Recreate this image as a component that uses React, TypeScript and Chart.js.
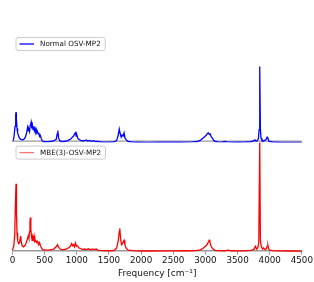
import React, { useEffect, useRef } from "react";
import { Chart, registerables } from "chart.js";

Chart.register(...registerables);

// Frequencies (cm^-1) and intensities for the two spectra
const blueFreq = [0, 20, 40, 50, 55, 60, 70, 80, 95, 110, 130, 150, 175, 200, 220, 235, 245, 255, 265, 275, 285, 290, 300, 310, 320, 330, 340, 350, 360, 370, 380, 390, 400, 410, 420, 430, 445, 460, 480, 520, 580, 640, 680, 695, 705, 715, 730, 760, 800, 850, 880, 910, 930, 950, 965, 980, 990, 1000, 1015, 1030, 1060, 1100, 1130, 1150, 1170, 1200, 1230, 1260, 1290, 1320, 1400, 1500, 1580, 1620, 1645, 1660, 1672, 1690, 1705, 1720, 1735, 1750, 1770, 1800, 1860, 1950, 2100, 2300, 2500, 2600, 2700, 2800, 2870, 2920, 2950, 2980, 3000, 3015, 3030, 3045, 3060, 3075, 3090, 3110, 3130, 3160, 3200, 3260, 3300, 3340, 3400, 3500, 3600, 3700, 3750, 3770, 3790, 3810, 3825, 3835, 3845, 3855, 3865, 3880, 3900, 3925, 3945, 3960, 3970, 3985, 4000, 4050, 4150, 4300, 4500];
const blueInt = [0.01, 0.04, 0.15, 0.26, 0.28, 0.22, 0.13, 0.09, 0.06, 0.04, 0.03, 0.025, 0.03, 0.05, 0.09, 0.14, 0.11, 0.12, 0.10, 0.16, 0.18, 0.19, 0.13, 0.16, 0.12, 0.15, 0.11, 0.13, 0.10, 0.12, 0.09, 0.10, 0.08, 0.09, 0.06, 0.07, 0.04, 0.02, 0.01, 0.008, 0.01, 0.015, 0.03, 0.08, 0.11, 0.05, 0.02, 0.01, 0.01, 0.015, 0.025, 0.035, 0.05, 0.06, 0.08, 0.09, 0.06, 0.07, 0.04, 0.03, 0.02, 0.015, 0.02, 0.025, 0.015, 0.02, 0.012, 0.018, 0.01, 0.012, 0.005, 0.004, 0.006, 0.02, 0.07, 0.125, 0.09, 0.05, 0.07, 0.06, 0.09, 0.04, 0.025, 0.01, 0.004, 0.003, 0.002, 0.003, 0.004, 0.003, 0.005, 0.006, 0.01, 0.02, 0.035, 0.05, 0.06, 0.07, 0.085, 0.09, 0.075, 0.08, 0.055, 0.04, 0.02, 0.01, 0.006, 0.005, 0.01, 0.006, 0.004, 0.003, 0.005, 0.008, 0.015, 0.025, 0.012, 0.02, 0.04, 0.12, 0.70, 0.12, 0.04, 0.02, 0.015, 0.02, 0.03, 0.05, 0.045, 0.015, 0.01, 0.005, 0.003, 0.002, 0.001];

const redFreq = [0, 20, 35, 45, 55, 62, 70, 80, 95, 110, 120, 128, 135, 150, 170, 190, 210, 230, 245, 255, 265, 272, 278, 285, 295, 305, 315, 325, 335, 345, 360, 375, 390, 405, 420, 435, 450, 470, 520, 580, 640, 680, 700, 715, 740, 780, 830, 870, 900, 920, 935, 950, 965, 980, 995, 1010, 1030, 1060, 1090, 1120, 1150, 1180, 1210, 1240, 1270, 1300, 1330, 1400, 1500, 1580, 1620, 1645, 1660, 1668, 1680, 1695, 1710, 1725, 1735, 1748, 1765, 1800, 1860, 1950, 2100, 2300, 2500, 2700, 2850, 2920, 2960, 2990, 3010, 3030, 3045, 3058, 3070, 3085, 3100, 3120, 3150, 3200, 3300, 3350, 3400, 3500, 3600, 3700, 3750, 3770, 3780, 3795, 3815, 3830, 3845, 3855, 3870, 3890, 3905, 3925, 3945, 3960, 3972, 3985, 4000, 4050, 4150, 4300, 4500];
const redInt = [0.01, 0.05, 0.15, 0.42, 0.62, 0.35, 0.17, 0.10, 0.07, 0.08, 0.12, 0.14, 0.09, 0.05, 0.04, 0.05, 0.07, 0.11, 0.14, 0.12, 0.18, 0.27, 0.31, 0.2, 0.14, 0.10, 0.13, 0.11, 0.14, 0.09, 0.10, 0.08, 0.09, 0.06, 0.08, 0.05, 0.03, 0.015, 0.01, 0.012, 0.02, 0.04, 0.06, 0.04, 0.02, 0.012, 0.02, 0.03, 0.045, 0.07, 0.05, 0.06, 0.04, 0.075, 0.045, 0.05, 0.03, 0.025, 0.015, 0.02, 0.015, 0.022, 0.012, 0.02, 0.015, 0.02, 0.008, 0.005, 0.004, 0.006, 0.03, 0.1, 0.18, 0.21, 0.12, 0.06, 0.07, 0.09, 0.10, 0.06, 0.03, 0.01, 0.005, 0.003, 0.002, 0.003, 0.003, 0.004, 0.006, 0.012, 0.025, 0.04, 0.05, 0.065, 0.085, 0.10, 0.08, 0.05, 0.035, 0.02, 0.008, 0.005, 0.004, 0.01, 0.004, 0.003, 0.004, 0.008, 0.015, 0.035, 0.045, 0.02, 0.03, 0.08, 1.0, 0.1, 0.04, 0.02, 0.03, 0.015, 0.02, 0.045, 0.055, 0.02, 0.01, 0.005, 0.003, 0.002, 0.001];

const xTicks = [0, 500, 1000, 1500, 2000, 2500, 3000, 3500, 4000, 4500];
const blueLabel = "Normal OSV-MP2";
const redLabel = "MBE(3)-OSV-MP2";
const xTitle = "Frequency [cm\u207B\u00B9]";

const FONT = "'DejaVu Sans', sans-serif";

function drawLegendBox(ctx: CanvasRenderingContext2D, left: number, top: number, color: string, label: string) {
  ctx.save();
  ctx.font = `7.2px ${FONT}`;
  const tw = ctx.measureText(label).width;
  const w = 24 + tw + 4.5;
  const h = 13;
  const r = 2;
  ctx.beginPath();
  ctx.moveTo(left + r, top);
  ctx.lineTo(left + w - r, top);
  ctx.quadraticCurveTo(left + w, top, left + w, top + r);
  ctx.lineTo(left + w, top + h - r);
  ctx.quadraticCurveTo(left + w, top + h, left + w - r, top + h);
  ctx.lineTo(left + r, top + h);
  ctx.quadraticCurveTo(left, top + h, left, top + h - r);
  ctx.lineTo(left, top + r);
  ctx.quadraticCurveTo(left, top, left + r, top);
  ctx.closePath();
  ctx.fillStyle = "rgba(255,255,255,0.85)";
  ctx.fill();
  ctx.strokeStyle = "#cccccc";
  ctx.lineWidth = 1;
  ctx.stroke();
  ctx.beginPath();
  ctx.moveTo(left + 3.5, top + h / 2);
  ctx.lineTo(left + 18, top + h / 2);
  ctx.strokeStyle = color;
  ctx.lineWidth = 1.3;
  ctx.stroke();
  ctx.fillStyle = "#111";
  ctx.textBaseline = "middle";
  ctx.textAlign = "left";
  ctx.fillText(label, left + 24, top + h / 2 + 0.5);
  ctx.restore();
}

const panelPlugin = {
  id: "panels",
  beforeDatasetsDraw(chart: any) {
    const ctx = chart.ctx;
    const yb = chart.scales.yBlue;
    const area = chart.chartArea;
    ctx.save();
    ctx.strokeStyle = "#999";
    ctx.lineWidth = 1.2;
    ctx.beginPath();
    ctx.moveTo(area.left, yb.bottom - 1.5);
    ctx.lineTo(area.right, yb.bottom - 1.5);
    ctx.stroke();
    ctx.restore();
  },
  afterDatasetsDraw(chart: any) {
    const ctx = chart.ctx;
    const area = chart.chartArea;
    const yb = chart.scales.yBlue;
    const yr = chart.scales.yRed;
    drawLegendBox(ctx, area.left + 3.5, yb.top + 3.5, "#0000ff", blueLabel);
    drawLegendBox(ctx, area.left + 3.5, yr.top + 3.5, "rgba(255,0,0,0.55)", redLabel);
  },
};

export default function App() {
  const ref = useRef<HTMLCanvasElement>(null);
  useEffect(() => {
    if (!ref.current) return;
    const chart = new Chart(ref.current, {
      type: "line",
      data: {
        datasets: [
          {
            label: redLabel,
            data: redFreq.map((f, i) => ({ x: f, y: redInt[i] })),
            borderColor: "#ff0000",
            borderWidth: 1.3,
            pointRadius: 0,
            tension: 0,
            xAxisID: "x",
            yAxisID: "yRed",
            clip: false as any,
          },
          {
            label: blueLabel,
            data: blueFreq.map((f, i) => ({ x: f, y: blueInt[i] })),
            borderColor: "#0000ff",
            borderWidth: 1.3,
            pointRadius: 0,
            tension: 0,
            xAxisID: "x",
            yAxisID: "yBlue",
          },
        ],
      },
      options: {
        animation: false,
        responsive: true,
        maintainAspectRatio: false,
        layout: { padding: { top: 34, left: 12.5, right: 0, bottom: 3 } },
        plugins: { legend: { display: false }, tooltip: { enabled: false } },
        scales: {
          x: {
            type: "linear",
            min: 0,
            max: 4500,
            afterBuildTicks: (axis: any) => {
              axis.ticks = xTicks.map((v) => ({ value: v }));
            },
            ticks: {
              callback: (v: any) => String(v),
              font: { family: FONT, size: 8.75 },
              color: "#111",
              padding: 1,
              maxRotation: 0,
              autoSkip: false,
            },
            grid: { drawOnChartArea: false, drawTicks: true, tickLength: 3.5, tickColor: "#999", tickWidth: 1 },
            border: { display: true, color: "#999", width: 1.5 },
            title: {
              display: true,
              text: xTitle,
              font: { family: FONT, size: 9 },
              color: "#111",
              padding: { top: 1, bottom: 0 },
            },
          },
          yRed: {
            type: "linear",
            position: "left",
            stack: "panels",
            stackWeight: 1,
            min: 0,
            max: 1,
            display: false,
          },
          yBlue: {
            type: "linear",
            position: "left",
            stack: "panels",
            stackWeight: 1,
            min: 0,
            max: 1,
            display: false,
          },
        } as any,
      },
      plugins: [panelPlugin],
    });
    return () => chart.destroy();
  }, []);
  return (
    <div style={{ position: "fixed", left: 0, top: 0, width: 314, height: 282, background: "#fff" }}>
      <canvas ref={ref} />
    </div>
  );
}
